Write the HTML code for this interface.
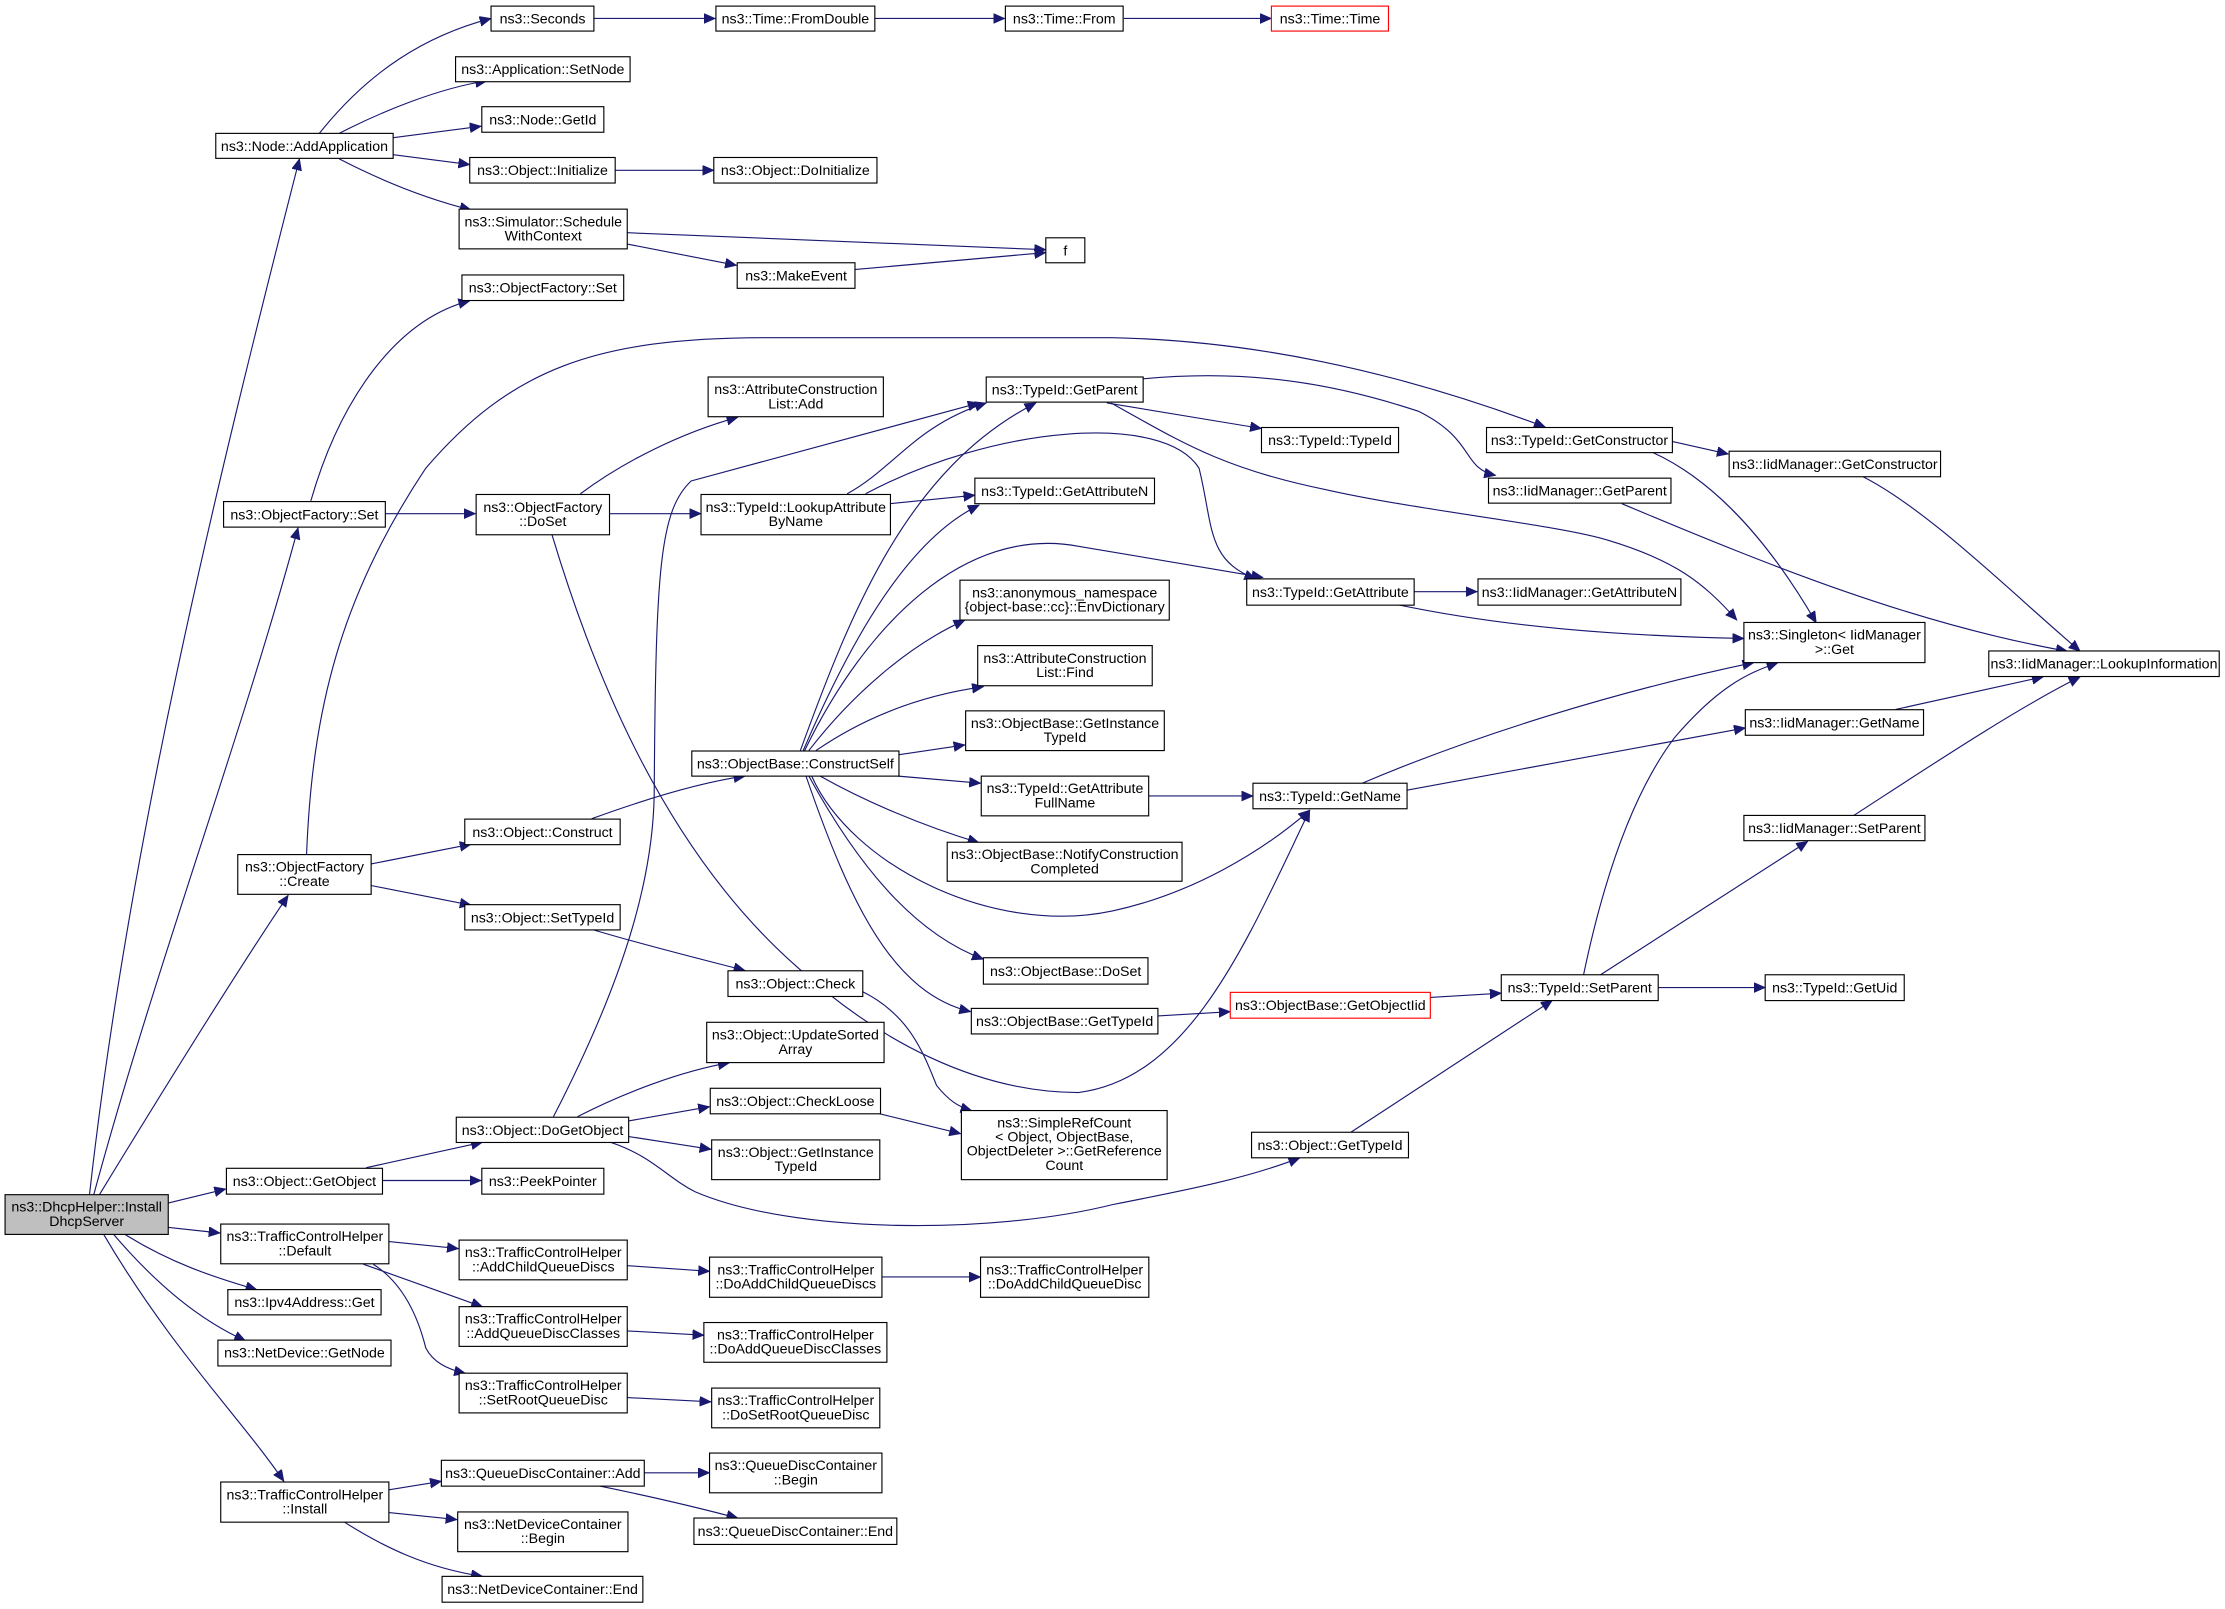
<!DOCTYPE html>
<html><head><meta charset="utf-8"><style>
html,body{margin:0;padding:0;background:#fff;}
svg{display:block;}
text{font-family:"Liberation Sans Narrow","Liberation Sans",sans-serif;font-size:10px;fill:#000;text-anchor:middle;}
.b{fill:#fff;stroke:#000;stroke-width:0.8;}
.r{fill:#fff;stroke:#f00;stroke-width:0.8;}
.g{fill:#bfbfbf;stroke:#000;stroke-width:0.8;}
path.e{fill:none;stroke:#191970;stroke-width:0.8;marker-end:url(#a);}
</style></head><body>
<svg width="2225" height="1609" viewBox="0 0 1568 1134" xmlns="http://www.w3.org/2000/svg">
<defs><marker id="a" markerUnits="userSpaceOnUse" markerWidth="9" markerHeight="8" refX="8" refY="3.5" orient="auto"><path d="M0,0 L8,3.5 L0,7 z" fill="#191970" stroke="#191970" stroke-width="0.5"/></marker></defs>

<g>
<path class="e" d="M63,842 C90,600 150,350 211,112"/>
<path class="e" d="M66,842 C110,680 170,520 210,372"/>
<path class="e" d="M70,842 C120,760 170,680 203,631"/>
<path class="e" d="M118,848 L159,838"/>
<path class="e" d="M118,865 L155,869"/>
<path class="e" d="M88,870 C120,890 150,900 181,909"/>
<path class="e" d="M80,870 C110,905 140,930 173,945"/>
<path class="e" d="M73,870 C120,950 170,1000 200,1044"/>
<path class="e" d="M225,94 C260,50 300,25 346,13"/>
<path class="e" d="M239,94 C270,78 310,62 343,57"/>
<path class="e" d="M277,97 L339,89"/>
<path class="e" d="M277,109 L331,116"/>
<path class="e" d="M239,112 C270,128 300,140 332,148"/>
<path class="e" d="M418,13 L504,13"/>
<path class="e" d="M616,13 L708,13"/>
<path class="e" d="M792,13 L896,13"/>
<path class="e" d="M433,120 L503,120"/>
<path class="e" d="M442,164 L737,176"/>
<path class="e" d="M442,172 L519,187"/>
<path class="e" d="M602,190 L737,178"/>
<path class="e" d="M219,353 C240,280 280,225 331,212"/>
<path class="e" d="M271,362 L335,362"/>
<path class="e" d="M409,348 C440,325 480,305 520,294"/>
<path class="e" d="M429,362 L494,362"/>
<path class="e" d="M389,377 C420,480 470,600 560,680 C620,735 690,770 760,770 C840,760 880,660 923,571"/>
<path class="e" d="M597,348 C630,330 645,300 695,284"/>
<path class="e" d="M627,355 L687,349"/>
<path class="e" d="M610,348 C700,300 820,290 845,330 C855,370 850,395 885,408"/>
<path class="e" d="M390,787 C440,690 460,620 461,560 C462,400 465,360 487,339 L690,284"/>
<path class="e" d="M564,529 C600,430 640,330 730,284"/>
<path class="e" d="M566,529 C600,450 640,380 690,356"/>
<path class="e" d="M567,529 C610,440 680,370 760,385 L890,407"/>
<path class="e" d="M570,529 C600,490 640,455 680,437"/>
<path class="e" d="M575,529 C610,505 650,490 693,484"/>
<path class="e" d="M633,532 L680,525"/>
<path class="e" d="M633,547 L691,552"/>
<path class="e" d="M578,547 C610,565 650,582 690,594"/>
<path class="e" d="M572,547 C600,610 700,660 784,642 C840,630 890,600 923,571"/>
<path class="e" d="M570,547 C610,620 650,660 693,676"/>
<path class="e" d="M568,547 C600,640 630,700 684,713"/>
<path class="e" d="M783,284 C830,310 860,330 934,345 C1000,360 1100,370 1134,381 C1180,395 1200,410 1224,437"/>
<path class="e" d="M780,284 L889,302"/>
<path class="e" d="M805,267 C880,260 940,270 1000,290 C1040,310 1030,330 1054,335"/>
<path class="e" d="M216,602 C220,500 240,420 300,330 C360,260 420,238 540,238 L784,238 C880,240 980,260 1089,301"/>
<path class="e" d="M1178,311 L1218,320"/>
<path class="e" d="M1165,319 C1200,335 1240,370 1280,439"/>
<path class="e" d="M1313,336 C1360,360 1420,420 1466,459"/>
<path class="e" d="M1143,355 C1250,400 1350,440 1457,459"/>
<path class="e" d="M996,417 L1041,417"/>
<path class="e" d="M984,426 C1060,442 1140,448 1229,450"/>
<path class="e" d="M960,552 C1040,518 1140,487 1236,467"/>
<path class="e" d="M991,557 L1230,513"/>
<path class="e" d="M1336,500 L1440,477"/>
<path class="e" d="M1306,575 C1360,540 1420,500 1466,477"/>
<path class="e" d="M1116,687 C1130,620 1150,560 1180,520 C1210,485 1230,475 1253,467"/>
<path class="e" d="M1128,687 L1274,593"/>
<path class="e" d="M1168,696 L1244,696"/>
<path class="e" d="M1008,703 L1058,700"/>
<path class="e" d="M816,716 L867,713"/>
<path class="e" d="M809,561 L883,561"/>
<path class="e" d="M952,798 L1094,705"/>
<path class="e" d="M430,805 C460,815 470,830 490,840 C560,870 700,870 784,849 C840,838 880,830 916,816"/>
<path class="e" d="M407,787 C440,770 480,755 514,749"/>
<path class="e" d="M443,790 L500,780"/>
<path class="e" d="M443,801 L501,810"/>
<path class="e" d="M620,785 L677,799"/>
<path class="e" d="M608,699 C640,715 650,740 660,765 C668,775 675,780 685,783"/>
<path class="e" d="M417,577 C450,565 490,552 525,547"/>
<path class="e" d="M261,609 L332,595"/>
<path class="e" d="M261,624 L332,638"/>
<path class="e" d="M417,655 C450,665 490,675 525,684"/>
<path class="e" d="M258,823 L340,805"/>
<path class="e" d="M269,832 L339,832"/>
<path class="e" d="M274,875 L323,880"/>
<path class="e" d="M256,891 L340,921"/>
<path class="e" d="M263,891 C285,905 295,930 300,950 C305,960 315,965 328,968"/>
<path class="e" d="M442,892 L500,896"/>
<path class="e" d="M621,900 L691,900"/>
<path class="e" d="M442,938 L496,941"/>
<path class="e" d="M442,985 L501,988"/>
<path class="e" d="M274,1050 L311,1044"/>
<path class="e" d="M274,1066 L322,1071"/>
<path class="e" d="M243,1073 C270,1090 300,1105 340,1111"/>
<path class="e" d="M454,1038 L500,1038"/>
<path class="e" d="M421,1047 C460,1055 490,1062 520,1070"/>
</g>

<g>
<rect class="b" x="346" y="4.3" width="72.5" height="17.6"/><text x="382.3" y="16.6">ns3::Seconds</text>
<rect class="b" x="504.5" y="4.3" width="112" height="17.6"/><text x="560.5" y="16.6">ns3::Time::FromDouble</text>
<rect class="b" x="708.5" y="4.3" width="83" height="17.6"/><text x="750" y="16.6">ns3::Time::From</text>
<rect class="r" x="896" y="4.3" width="82.5" height="17.6"/><text x="937.3" y="16.6">ns3::Time::Time</text>
<rect class="b" x="152" y="94" width="125" height="17.6"/><text x="214.5" y="106.3">ns3::Node::AddApplication</text>
<rect class="b" x="321" y="40" width="123" height="17.6"/><text x="382.5" y="52.3">ns3::Application::SetNode</text>
<rect class="b" x="339.5" y="75.2" width="86" height="18"/><text x="382.5" y="87.7">ns3::Node::GetId</text>
<rect class="b" x="331" y="111" width="102.5" height="18"/><text x="382.3" y="123.5">ns3::Object::Initialize</text>
<rect class="b" x="503" y="111" width="115" height="18"/><text x="560.5" y="123.5">ns3::Object::DoInitialize</text>
<rect class="b" x="323.5" y="147.4" width="118.5" height="28"/><text x="382.8" y="159.5">ns3::Simulator::Schedule</text><text x="382.8" y="169.5">WithContext</text>
<rect class="b" x="737" y="167.6" width="27.5" height="17.6"/><text x="750.8" y="179.9">f</text>
<rect class="b" x="519.5" y="185.2" width="83" height="18"/><text x="561" y="197.7">ns3::MakeEvent</text>
<rect class="b" x="325.5" y="193.8" width="114" height="18"/><text x="382.5" y="206.3">ns3::ObjectFactory::Set</text>
<rect class="b" x="499" y="265.7" width="123.5" height="28"/><text x="560.8" y="277.8">ns3::AttributeConstruction</text><text x="560.8" y="287.8">List::Add</text>
<rect class="b" x="695" y="265.7" width="110.6" height="17.7"/><text x="750.3" y="278">ns3::TypeId::GetParent</text>
<rect class="b" x="157.5" y="353.5" width="114" height="18"/><text x="214.5" y="366">ns3::ObjectFactory::Set</text>
<rect class="b" x="335.5" y="348.5" width="94" height="28.4"/><text x="382.5" y="360.7">ns3::ObjectFactory</text><text x="382.5" y="370.7">::DoSet</text>
<rect class="b" x="494" y="348.5" width="133.5" height="28.4"/><text x="560.8" y="360.7">ns3::TypeId::LookupAttribute</text><text x="560.8" y="370.7">ByName</text>
<rect class="b" x="687" y="337" width="126.6" height="18"/><text x="750.3" y="349.5">ns3::TypeId::GetAttributeN</text>
<rect class="b" x="676.5" y="408.9" width="147.5" height="28.1"/><text x="750.3" y="421">ns3::anonymous_namespace</text><text x="750.3" y="431">{object-base::cc}::EnvDictionary</text>
<rect class="b" x="689" y="455" width="123" height="28.3"/><text x="750.5" y="467.2">ns3::AttributeConstruction</text><text x="750.5" y="477.2">List::Find</text>
<rect class="b" x="680.5" y="501" width="140" height="28"/><text x="750.5" y="513">ns3::ObjectBase::GetInstance</text><text x="750.5" y="523">TypeId</text>
<rect class="b" x="487.5" y="529.3" width="146" height="17.7"/><text x="560.5" y="541.6">ns3::ObjectBase::ConstructSelf</text>
<rect class="b" x="691.5" y="547" width="118" height="28"/><text x="750.5" y="559">ns3::TypeId::GetAttribute</text><text x="750.5" y="569">FullName</text>
<rect class="b" x="667.5" y="593.6" width="165.5" height="27.5"/><text x="750.3" y="605.5">ns3::ObjectBase::NotifyConstruction</text><text x="750.3" y="615.5">Completed</text>
<rect class="b" x="693" y="675" width="116" height="18.6"/><text x="751" y="687.8">ns3::ObjectBase::DoSet</text>
<rect class="b" x="684.5" y="710.7" width="131.5" height="18"/><text x="750.3" y="723.2">ns3::ObjectBase::GetTypeId</text>
<rect class="b" x="1047.6" y="301.3" width="131" height="17.7"/><text x="1113.1" y="313.6">ns3::TypeId::GetConstructor</text>
<rect class="b" x="1218.6" y="318" width="149" height="18"/><text x="1293.1" y="330.5">ns3::IidManager::GetConstructor</text>
<rect class="b" x="1049" y="337" width="128.6" height="17.6"/><text x="1113.3" y="349.3">ns3::IidManager::GetParent</text>
<rect class="b" x="889" y="301.3" width="96.6" height="17.7"/><text x="937.3" y="313.6">ns3::TypeId::TypeId</text>
<rect class="b" x="878.6" y="408" width="118" height="18.5"/><text x="937.6" y="420.7">ns3::TypeId::GetAttribute</text>
<rect class="b" x="1041.6" y="408" width="143" height="18.5"/><text x="1113.1" y="420.7">ns3::IidManager::GetAttributeN</text>
<rect class="b" x="1229" y="438.7" width="127.6" height="28.3"/><text x="1292.8" y="450.8">ns3::Singleton&lt; IidManager</text><text x="1292.8" y="460.8">&gt;::Get</text>
<rect class="b" x="1401.6" y="458.8" width="162.4" height="18"/><text x="1482.8" y="471.3">ns3::IidManager::LookupInformation</text>
<rect class="b" x="1230" y="500.2" width="125.6" height="18"/><text x="1292.8" y="512.7">ns3::IidManager::GetName</text>
<rect class="b" x="883" y="552" width="108.6" height="18"/><text x="937.3" y="564.5">ns3::TypeId::GetName</text>
<rect class="b" x="1229" y="574.7" width="127.6" height="17.8"/><text x="1292.8" y="587">ns3::IidManager::SetParent</text>
<rect class="r" x="867" y="699.4" width="141" height="18.2"/><text x="937.5" y="711.8">ns3::ObjectBase::GetObjectIid</text>
<rect class="b" x="1058" y="687" width="110.6" height="18.2"/><text x="1113.3" y="699.4">ns3::TypeId::SetParent</text>
<rect class="b" x="1244" y="687" width="98" height="18.2"/><text x="1293" y="699.4">ns3::TypeId::GetUid</text>
<rect class="b" x="882" y="798" width="110.6" height="18"/><text x="937.3" y="810.5">ns3::Object::GetTypeId</text>
<rect class="b" x="327.5" y="577.3" width="109.5" height="18"/><text x="382.3" y="589.8">ns3::Object::Construct</text>
<rect class="b" x="167.5" y="602.3" width="94" height="28"/><text x="214.5" y="614.3">ns3::ObjectFactory</text><text x="214.5" y="624.3">::Create</text>
<rect class="b" x="327.5" y="637.6" width="109.5" height="17.8"/><text x="382.3" y="650">ns3::Object::SetTypeId</text>
<rect class="b" x="513" y="684.2" width="95" height="18.1"/><text x="560.5" y="696.6">ns3::Object::Check</text>
<rect class="b" x="498" y="720.5" width="125" height="28.4"/><text x="560.5" y="732.7">ns3::Object::UpdateSorted</text><text x="560.5" y="742.7">Array</text>
<rect class="b" x="500.5" y="767" width="120" height="18"/><text x="560.5" y="779.5">ns3::Object::CheckLoose</text>
<rect class="b" x="677.5" y="782.7" width="145" height="48.7"/><text x="750" y="794.5">ns3::SimpleRefCount</text><text x="750" y="804.5">&lt; Object, ObjectBase,</text><text x="750" y="814.5">ObjectDeleter &gt;::GetReference</text><text x="750" y="824.5">Count</text>
<rect class="b" x="321.5" y="787.4" width="121.5" height="17.8"/><text x="382.3" y="799.8">ns3::Object::DoGetObject</text>
<rect class="b" x="501.5" y="803.4" width="118.5" height="28"/><text x="560.8" y="815.4">ns3::Object::GetInstance</text><text x="560.8" y="825.4">TypeId</text>
<rect class="b" x="159.5" y="823.4" width="110" height="18.2"/><text x="214.5" y="835.8">ns3::Object::GetObject</text>
<rect class="b" x="339.5" y="823.4" width="86" height="18.2"/><text x="382.5" y="835.8">ns3::PeekPointer</text>
<rect class="g" x="3.5" y="842" width="115" height="28"/><text x="61" y="854">ns3::DhcpHelper::Install</text><text x="61" y="864">DhcpServer</text>
<rect class="b" x="155.5" y="862.7" width="118.5" height="28"/><text x="214.8" y="874.7">ns3::TrafficControlHelper</text><text x="214.8" y="884.7">::Default</text>
<rect class="b" x="323.5" y="874" width="118.5" height="28"/><text x="382.8" y="886">ns3::TrafficControlHelper</text><text x="382.8" y="896">::AddChildQueueDiscs</text>
<rect class="b" x="500" y="886" width="121.5" height="28.3"/><text x="560.8" y="898.2">ns3::TrafficControlHelper</text><text x="560.8" y="908.2">::DoAddChildQueueDiscs</text>
<rect class="b" x="691" y="886" width="118.6" height="28.3"/><text x="750.3" y="898.2">ns3::TrafficControlHelper</text><text x="750.3" y="908.2">::DoAddChildQueueDisc</text>
<rect class="b" x="160.5" y="908.9" width="108" height="17.8"/><text x="214.5" y="921.3">ns3::Ipv4Address::Get</text>
<rect class="b" x="323.5" y="920.9" width="118.5" height="28"/><text x="382.8" y="932.9">ns3::TrafficControlHelper</text><text x="382.8" y="942.9">::AddQueueDiscClasses</text>
<rect class="b" x="496" y="932.1" width="129" height="28"/><text x="560.5" y="944.1">ns3::TrafficControlHelper</text><text x="560.5" y="954.1">::DoAddQueueDiscClasses</text>
<rect class="b" x="153.5" y="944.5" width="122" height="18.2"/><text x="214.5" y="956.9">ns3::NetDevice::GetNode</text>
<rect class="b" x="323.5" y="967.8" width="118.5" height="28"/><text x="382.8" y="979.8">ns3::TrafficControlHelper</text><text x="382.8" y="989.8">::SetRootQueueDisc</text>
<rect class="b" x="501.5" y="978.3" width="118.5" height="28"/><text x="560.8" y="990.3">ns3::TrafficControlHelper</text><text x="560.8" y="1000.3">::DoSetRootQueueDisc</text>
<rect class="b" x="311" y="1029.2" width="143" height="18.2"/><text x="382.5" y="1041.6">ns3::QueueDiscContainer::Add</text>
<rect class="b" x="500" y="1024.1" width="121.5" height="28"/><text x="560.8" y="1036.1">ns3::QueueDiscContainer</text><text x="560.8" y="1046.1">::Begin</text>
<rect class="b" x="155.5" y="1044.5" width="118.5" height="28.3"/><text x="214.8" y="1056.7">ns3::TrafficControlHelper</text><text x="214.8" y="1066.7">::Install</text>
<rect class="b" x="322.5" y="1065.6" width="120" height="28"/><text x="382.5" y="1077.6">ns3::NetDeviceContainer</text><text x="382.5" y="1087.6">::Begin</text>
<rect class="b" x="489" y="1069.9" width="143" height="18.6"/><text x="560.5" y="1082.5">ns3::QueueDiscContainer::End</text>
<rect class="b" x="311.5" y="1111" width="141.5" height="18.2"/><text x="382.3" y="1123.4">ns3::NetDeviceContainer::End</text>
</g>
</svg>
</body></html>
